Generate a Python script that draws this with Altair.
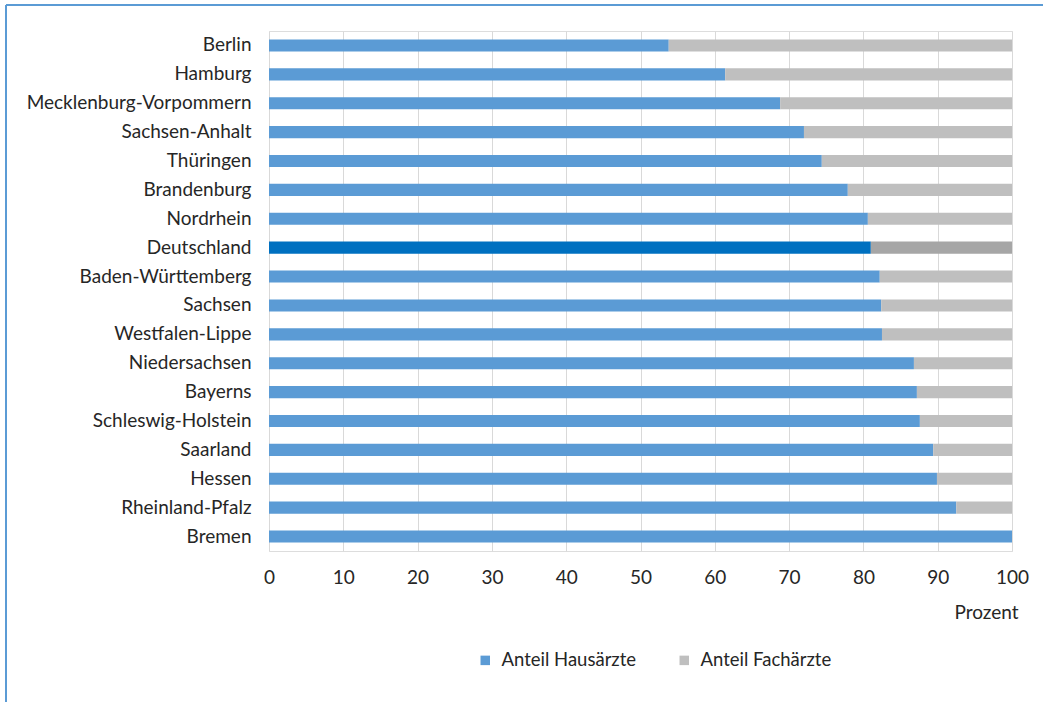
import altair as alt
import pandas as pd

regions = ["Berlin", "Hamburg", "Mecklenburg-Vorpommern", "Sachsen-Anhalt", "Thüringen",
           "Brandenburg", "Nordrhein", "Deutschland", "Baden-Württemberg", "Sachsen",
           "Westfalen-Lippe", "Niedersachsen", "Bayerns", "Schleswig-Holstein", "Saarland",
           "Hessen", "Rheinland-Pfalz", "Bremen"]
haus = [53.8, 61.4, 68.8, 72.0, 74.4, 77.9, 80.6, 81.0, 82.2, 82.4, 82.5, 86.8, 87.2,
        87.6, 89.4, 89.9, 92.5, 100.0]
series = ["Anteil Hausärzte", "Anteil Fachärzte"]
color_keys = ["Anteil Hausärzte", "Anteil Fachärzte", "Deutschland Hausärzte", "Deutschland Fachärzte"]
color_vals = ["#5B9BD5", "#BFBFBF", "#0070C0", "#A6A6A6"]
x_ticks = [0, 10, 20, 30, 40, 50, 60, 70, 80, 90, 100]

rows = []
for r, h in zip(regions, haus):
    de = r == "Deutschland"
    rows.append({"region": r, "x0": 0, "x1": h,
                 "key": "Deutschland Hausärzte" if de else series[0]})
    rows.append({"region": r, "x0": h, "x1": 100,
                 "key": "Deutschland Fachärzte" if de else series[1]})
df = pd.DataFrame(rows)

FONT = "Lato"

bars = alt.Chart(df).mark_bar().encode(
    y=alt.Y("region:N", sort=regions,
            scale=alt.Scale(paddingInner=0.58, paddingOuter=0.29),
            axis=alt.Axis(title=None, domain=False, ticks=False, labelPadding=18,
                          labelFontSize=19, labelColor="#262626", labelFont=FONT,
                          labelLimit=400)),
    x=alt.X("x0:Q", scale=alt.Scale(domain=[0, 100], nice=False),
            axis=alt.Axis(values=x_ticks, title="Prozent", grid=True, gridColor="#D9D9D9",
                          domain=False, ticks=False, labelPadding=17, labelFontSize=19,
                          labelFlush=False,
                          labelColor="#262626", labelFont=FONT, titleFont=FONT,
                          titleFontSize=19, titleFontWeight="normal", titleColor="#262626",
                          titleX=717, titleY=52, titleAlign="center")),
    x2="x1:Q",
    color=alt.Color("key:N", scale=alt.Scale(domain=color_keys, range=color_vals),
                    legend=alt.Legend(values=series, title=None, orient="none",
                                      direction="horizontal", legendX=207, legendY=620,
                                      symbolType="square", symbolSize=90,
                                      symbolStrokeWidth=0, labelFontSize=18.5,
                                      labelFont=FONT, labelColor="#262626",
                                      columnPadding=38, labelOffset=7)),
)

top_line = alt.Chart(pd.DataFrame({"a": [0]})).mark_rule(color="#5B9BD5", strokeWidth=2).encode(
    x=alt.value(-263), x2=alt.value(780), y=alt.value(-26))
left_line = alt.Chart(pd.DataFrame({"a": [0]})).mark_rule(color="#5B9BD5", strokeWidth=2).encode(
    x=alt.value(-263), y=alt.value(-26), y2=alt.value(680))

chart = alt.layer(bars, top_line, left_line).properties(
    width=743, height=520,
    autosize=alt.AutoSizeParams(type="none"),
    padding={"left": 269, "top": 31, "right": 31, "bottom": 151},
).configure_view(stroke=None).configure(background="white")

chart.save("out.html", embed_options={"renderer": "svg", "actions": False})
